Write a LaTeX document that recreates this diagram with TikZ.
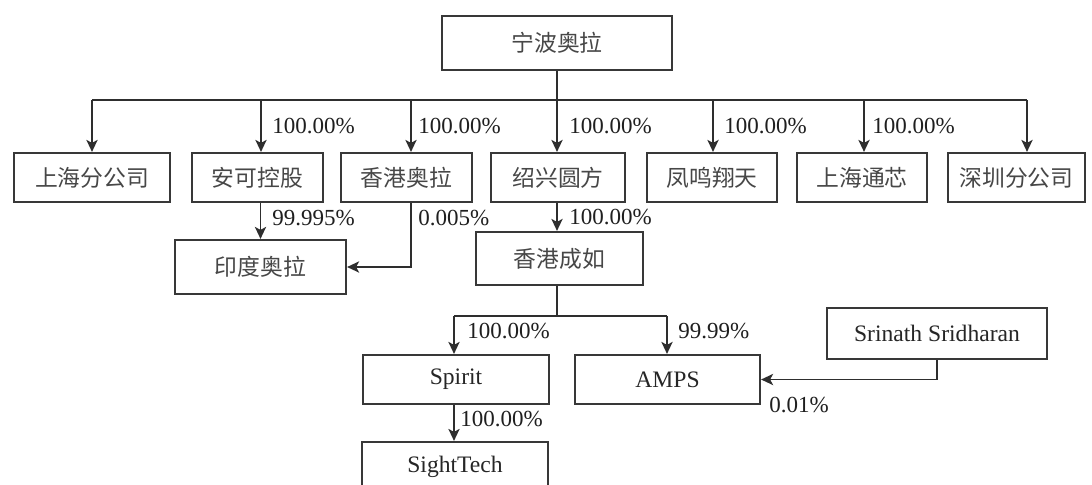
\documentclass[tikz,border=0pt]{standalone}
\usepackage{fontspec}
\setmainfont{Liberation Serif}
\newfontfamily\cjk{Noto Sans CJK SC}
\usetikzlibrary{arrows.meta}
\begin{document}
\begin{tikzpicture}[x=0.5pt,y=-0.5pt,
  box/.style={draw=black!78,line width=1.1pt,inner sep=0pt,anchor=center,
    font=\cjk\fontsize{11.4pt}{13pt}\selectfont,text=black!72},
  lbox/.style={box,font=\fontsize{11.8pt}{13pt}\selectfont,text=black!85},
  pct/.style={anchor=west,inner sep=0pt,font=\fontsize{11.5pt}{13pt}\selectfont,text=black!88},
  conn/.style={draw=black!82,line width=0.9pt},
  arr/.style={conn,-{Stealth[length=6pt,width=5.6pt,inset=1.5pt]}}]
\clip (0,0) rectangle (1092,484);
\fill[white] (0,0) rectangle (1092,484);
% nodes
\node[box,minimum width=115pt,minimum height=27pt] (top) at (557,43) {宁波奥拉};
\node[box,minimum width=78pt,minimum height=24.5pt] (sh) at (92,177.5) {上海分公司};
\node[box,minimum width=65.5pt,minimum height=24.5pt] (ak) at (257.5,177.5) {安可控股};
\node[box,minimum width=65.5pt,minimum height=24.5pt] (hkal) at (406.5,177.5) {香港奥拉};
\node[box,minimum width=67pt,minimum height=24.5pt] (sx) at (558,177.5) {绍兴圆方};
\node[box,minimum width=65pt,minimum height=24.5pt] (fm) at (712,177.5) {凤鸣翔天};
\node[box,minimum width=65pt,minimum height=24.5pt] (sht) at (862,177.5) {上海通芯};
\node[box,minimum width=68.5pt,minimum height=24.5pt] (sz) at (1016.5,177.5) {深圳分公司};
\node[box,minimum width=85.5pt,minimum height=27pt] (yd) at (260.5,267) {印度奥拉};
\node[box,minimum width=83.5pt,minimum height=26.5pt] (hkcr) at (559.5,258.5) {香港成如};
\node[lbox,minimum width=93pt,minimum height=24.5pt] (spirit) at (456,379.5) {Spirit};
\node[lbox,minimum width=92.5pt,minimum height=24.5pt] (amps) at (667.5,379.5) {AMPS};
\node[lbox,minimum width=110pt,minimum height=25.5pt] (srin) at (937,333.5) {Srinath Sridharan};
\node[lbox,minimum width=93pt,minimum height=25pt] (sight) at (455,467) {SightTech};
% bus
\coordinate (d1) at (92,100);
\coordinate (d2) at (261,100);
\coordinate (d3) at (411,100);
\coordinate (d4) at (557,100);
\coordinate (d5) at (713,100);
\coordinate (d6) at (864,100);
\coordinate (d7) at (1027,100);
\draw[conn] (d1) -- (d7);
\draw[conn] (top.south) -- (top.south |- d1);
\draw[arr] (d1) -- (d1 |- sh.north);
\draw[arr] (d2) -- (d2 |- ak.north);
\draw[arr] (d3) -- (d3 |- hkal.north);
\draw[arr] (d4) -- (d4 |- sx.north);
\draw[arr] (d5) -- (d5 |- fm.north);
\draw[arr] (d6) -- (d6 |- sht.north);
\draw[arr] (d7) -- (d7 |- sz.north);
% second level
\draw[arr] (yd.north |- ak.south) -- (yd.north);
\draw[arr] (hkal.south -| d3) |- (yd.east);
\draw[arr] (sx.south -| d4) -- (d4 |- hkcr.north);
% 香港成如 branch
\coordinate (br) at (557,316);
\coordinate (brL) at (454,316);
\coordinate (brR) at (667,316);
\draw[conn] (hkcr.south -| br) -- (br);
\draw[conn] (brL) -- (brR);
\draw[arr] (brL) -- (brL |- spirit.north);
\draw[arr] (brR) -- (brR |- amps.north);
\draw[arr] (spirit.south -| brL) -- (brL |- sight.north);
\draw[arr] (srin.south) |- (amps.east);
% labels
\node[pct] (p2) at (272,126) {100.00\%};
\node[pct] (p3) at (418,126) {100.00\%};
\node[pct] (p4) at (569,126) {100.00\%};
\node[pct] (p5) at (724,126) {100.00\%};
\node[pct] (p6) at (872,126) {100.00\%};
\node[pct] (p7) at (272,218) {99.995\%};
\node[pct] (p8) at (418,218) {0.005\%};
\node[pct] (p9) at (569,217) {100.00\%};
\node[pct] (p10) at (467,331) {100.00\%};
\node[pct] (p11) at (678,331) {99.99\%};
\node[pct] (p12) at (460,419) {100.00\%};
\node[pct] (p13) at (769,405) {0.01\%};
\end{tikzpicture}
\end{document}
